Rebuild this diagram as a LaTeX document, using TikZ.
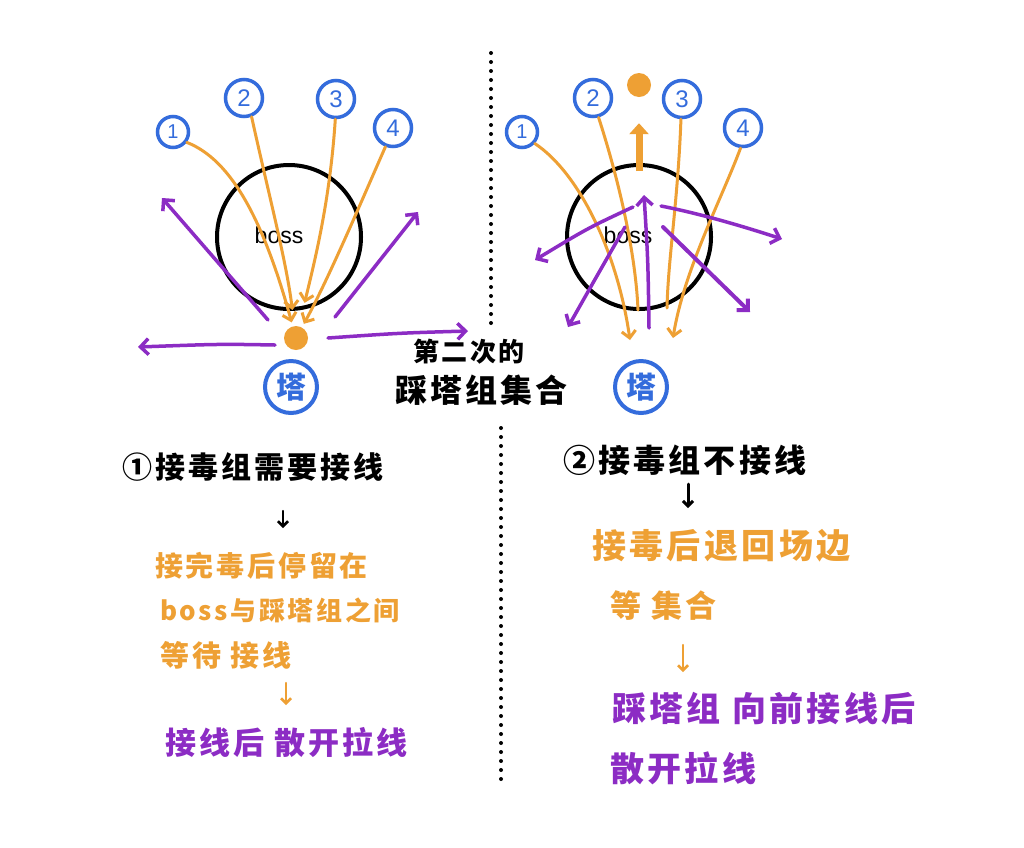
\documentclass[tikz,border=0pt]{standalone}
\usepackage{fontspec}
\newfontfamily\cjk[LetterSpace=10]{Noto Sans CJK SC}
\newfontfamily\numfont{Liberation Sans}
\usetikzlibrary{arrows.meta}
\definecolor{bl}{RGB}{52,108,220}
\definecolor{og}{RGB}{238,160,52}
\definecolor{pp}{RGB}{140,44,196}
\begin{document}
\begin{tikzpicture}[x=1pt,y=-1pt,
  numc/.style={circle,draw=bl,line width=3.5pt,text=bl,inner sep=0pt,minimum size=37pt,font=\numfont\fontsize{24}{24}\selectfont},
  numsmall/.style={numc,minimum size=31pt,font=\numfont\fontsize{20}{20}\selectfont},
  tower/.style={circle,draw=bl,line width=4pt,text=bl,inner sep=0pt,minimum size=52pt,font=\cjk\bfseries\fontsize{30}{30}\selectfont},
  bosscirc/.style={circle,draw=black,line width=4pt,minimum size=144pt,inner sep=0pt},
  bosstext/.style={font=\numfont\fontsize{23}{23}\selectfont,inner sep=0pt},
  odot/.style={circle,fill=og,minimum size=24pt,inner sep=0pt},
  oline/.style={draw=og,line width=3pt,line cap=round},
  oarr/.style={oline,-{Straight Barb[length=7pt,width=14pt]}},
  parr/.style={draw=pp,line width=3.5pt,line cap=round,-{Straight Barb[length=8pt,width=16pt]}},
  karr/.style={draw=black,line width=2.5pt,line cap=round,-{Straight Barb[length=5pt,width=10pt]}},
  koarr/.style={draw=og,line width=2.5pt,line cap=round,-{Straight Barb[length=5pt,width=10pt]}},
  dotline/.style={draw=black,line width=4pt,line cap=round,dash pattern=on 0pt off 9pt},
  txt/.style={anchor=west,inner sep=0pt}
]
\useasboundingbox[fill=white] (0,0) rectangle (1024,847);

% ---------- dotted separators ----------
\coordinate (d1s) at (491,53);
\coordinate (d1e) at (491,323);
\coordinate (d2s) at (501,428);
\coordinate (d2e) at (501,782);
\draw[dotline] (d1s) -- (d1e);
\draw[dotline] (d2s) -- (d2e);

% ---------- left diagram ----------
\node[bosscirc] (Lboss) at (289,237) {};
\node[bosstext] (Lbosst) at (279,235) {boss};
\node[numsmall] (L1) at (173,132) {1};
\node[numc] (L2) at (244,98) {2};
\node[numc] (L3) at (336,99) {3};
\node[numc] (L4) at (393,128) {4};
\node[odot] (Ldot) at (296,338) {};
\node[tower] (LT) at (291,387) {塔};

\draw[oarr,shorten >=4pt] (L1.-37) .. controls (232,160) and (264,222) .. (Ldot);
\draw[oarr,shorten >=16pt] (L2.-68) .. controls (270,200) and (286,260) .. (Ldot);
\draw[oarr,shorten >=24pt] (L3.-92) .. controls (330,200) and (315,260) .. (Ldot);
\draw[oarr,shorten >=4pt] (L4.-112) .. controls (362,200) and (328,280) .. (Ldot);

\coordinate (pa1s) at (268,320); \coordinate (pa1e) at (162,198);
\coordinate (pa2s) at (335,317); \coordinate (pa2e) at (418,212);
\coordinate (pa3s) at (275,345); \coordinate (pa3e) at (138,347);
\coordinate (pa4s) at (328,338); \coordinate (pa4e) at (468,331);
\draw[parr] (pa1s) -- (pa1e);
\draw[parr] (pa2s) -- (pa2e);
\draw[parr] (pa3s) .. controls (220,344) .. (pa3e);
\draw[parr] (pa4s) .. controls (400,333) .. (pa4e);

% ---------- right diagram ----------
\node[bosscirc] (Rboss) at (639,237) {};
\node[bosstext] (Rbosst) at (628,235) {boss};
\node[numsmall] (R1) at (522,132) {1};
\node[numc] (R2) at (593,98) {2};
\node[odot] (Rdot) at (639,85) {};
\node[numc] (R3) at (682,99) {3};
\node[numc] (R4) at (743,128) {4};
\node[tower] (RT) at (641,387) {塔};

\coordinate (ro1e) at (630,340);
\coordinate (ro2e) at (638,310);
\coordinate (ro3e) at (667,308);
\coordinate (ro4e) at (673,338);
\draw[oarr] (R1.-42) .. controls (578,172) and (617,250) .. (ro1e);
\draw[oline] (R2.-74) .. controls (622,190) and (636,260) .. (ro2e);
\draw[oline] (R3.-93) .. controls (678,200) and (668,260) .. (ro3e);
\draw[oarr] (R4.-97) .. controls (722,198) and (684,270) .. (ro4e);
\draw[draw=og,line width=7pt,-{Triangle[length=11pt,width=19pt]},shorten <=66pt,shorten >=26pt] (Rboss.center) -- (Rdot);

\coordinate (pr1s) at (649,328); \coordinate (pr1e) at (644,195);
\coordinate (pr2s) at (633,207); \coordinate (pr2e) at (535,260);
\coordinate (pr3s) at (625,227); \coordinate (pr3e) at (568,327);
\coordinate (pr4s) at (661,206); \coordinate (pr4e) at (782,239);
\coordinate (pr5s) at (663,227); \coordinate (pr5e) at (750,312);
\draw[parr] (pr1s) .. controls (648,260) .. (pr1e);
\draw[parr] (pr2s) .. controls (588,228) .. (pr2e);
\draw[parr] (pr3s) .. controls (598,274) .. (pr3e);
\draw[parr] (pr4s) .. controls (702,214) and (745,227) .. (pr4e);
\draw[parr,line width=4pt] (pr5s) -- (pr5e);

% ---------- middle label ----------
\node[txt,font=\cjk\bfseries\fontsize{26}{26}\selectfont] (m1) at (413,352) {第二次的};
\node[txt,font=\cjk\bfseries\fontsize{32}{32}\selectfont] (m2) at (395,390) {踩塔组集合};

% ---------- left text ----------
\node[txt,font=\cjk\bfseries\fontsize{30}{30}\selectfont] (l1) at (122,467) {①接毒组需要接线};
\node[txt,text=og,font=\cjk\bfseries\fontsize{28}{28}\selectfont] (l2) at (155,566) {接完毒后停留在};
\node[txt,text=og,font=\cjk\bfseries\fontsize{26}{26}\selectfont] (l3) at (160,610) {boss与踩塔组之间};
\node[txt,text=og,font=\cjk\bfseries\fontsize{29}{29}\selectfont] (l4) at (160,655) {等待 接线};
\node[txt,text=pp,font=\cjk\bfseries\fontsize{31}{31}\selectfont] (l5) at (165,742) {接线后 散开拉线};
\coordinate (la1s) at (283,511); \coordinate (la1e) at (283,528);
\coordinate (la2s) at (286,683); \coordinate (la2e) at (286,705);
\draw[karr] (la1s) -- (la1e);
\draw[koarr] (la2s) -- (la2e);

% ---------- right text ----------
\node[txt,font=\cjk\bfseries\fontsize{32}{32}\selectfont] (r1) at (563,460) {②接毒组不接线};
\node[txt,text=og,font=\cjk\bfseries\fontsize{34}{34}\selectfont] (r2) at (592,546) {接毒后退回场边};
\node[txt,text=og,font=\cjk\bfseries\fontsize{31}{31}\selectfont] (r3) at (610,606) {等 集合};
\node[txt,text=pp,font=\cjk\bfseries\fontsize{34}{34}\selectfont] (r4) at (612,708) {踩塔组 向前接线后};
\node[txt,text=pp,font=\cjk\bfseries\fontsize{34}{34}\selectfont] (r5) at (610,768) {散开拉线};
\coordinate (ra1s) at (688,484); \coordinate (ra1e) at (688,508);
\coordinate (ra2s) at (683,645); \coordinate (ra2e) at (683,672);
\draw[karr,line width=3pt] (ra1s) -- (ra1e);
\draw[koarr] (ra2s) -- (ra2e);
\end{tikzpicture}
\end{document}
